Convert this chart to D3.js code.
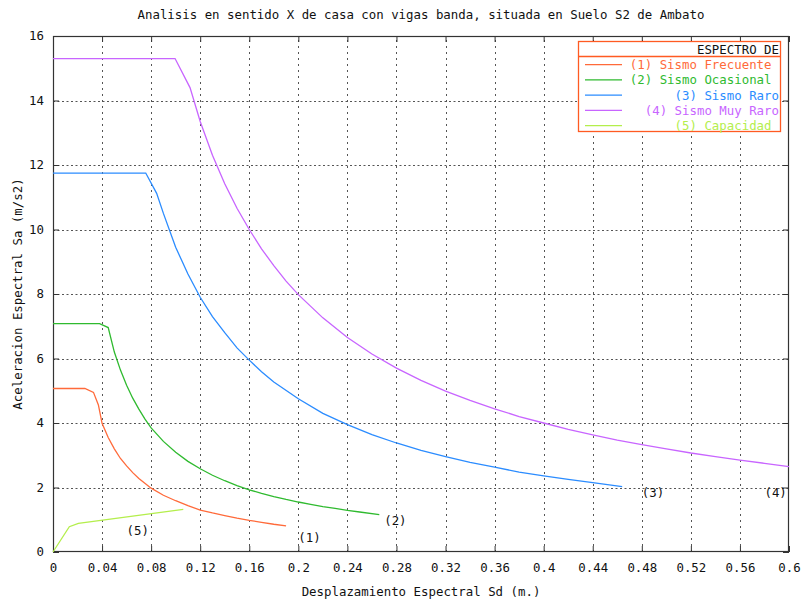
<!DOCTYPE html>
<html>
<head>
<meta charset="utf-8">
<script src="https://cdn.jsdelivr.net/npm/d3@7"></script>
<style>
  html, body { margin: 0; padding: 0; background: #fff; }
  svg text { font-family: "DejaVu Sans Mono", "Liberation Mono", monospace; font-size: 12.4px; fill: #111; white-space: pre; }
</style>
</head>
<body>
<svg id="chart" width="803" height="603"></svg>
<script>
// Spectral curves in Sa–Sd form (Sd in m, Sa in m/s2)
const sd1 = [0, 0.026, 0.033, 0.037, 0.04, 0.045, 0.05, 0.055, 0.06, 0.065, 0.07, 0.08, 0.09, 0.10, 0.11, 0.12, 0.13, 0.14, 0.15, 0.16, 0.17, 0.18, 0.19];
const sa1 = [5.07, 5.07, 4.95, 4.56, 3.99, 3.55, 3.20, 2.90, 2.67, 2.46, 2.28, 1.98, 1.76, 1.59, 1.44, 1.30, 1.21, 1.13, 1.05, 0.98, 0.92, 0.86, 0.81];

const sd2 = [0, 0.038, 0.045, 0.05, 0.055, 0.06, 0.065, 0.07, 0.075, 0.08, 0.09, 0.10, 0.11, 0.12, 0.13, 0.14, 0.15, 0.16, 0.17, 0.18, 0.19, 0.20, 0.21, 0.22, 0.23, 0.24, 0.25, 0.266];
const sa2 = [7.08, 7.08, 6.96, 6.20, 5.64, 5.17, 4.77, 4.43, 4.12, 3.85, 3.43, 3.09, 2.81, 2.58, 2.38, 2.21, 2.06, 1.93, 1.82, 1.72, 1.63, 1.55, 1.48, 1.41, 1.35, 1.29, 1.24, 1.16];

const sd3 = [0, 0.0756, 0.0845, 0.09, 0.10, 0.11, 0.12, 0.13, 0.14, 0.15, 0.16, 0.17, 0.18, 0.20, 0.22, 0.24, 0.26, 0.28, 0.30, 0.32, 0.34, 0.36, 0.38, 0.40, 0.42, 0.44, 0.464];
const sa3 = [11.75, 11.75, 11.12, 10.50, 9.45, 8.62, 7.90, 7.30, 6.80, 6.33, 5.95, 5.59, 5.27, 4.75, 4.30, 3.95, 3.64, 3.38, 3.15, 2.96, 2.78, 2.63, 2.48, 2.36, 2.25, 2.15, 2.03];

const sd4 = [0, 0.0995, 0.1117, 0.12, 0.13, 0.14, 0.15, 0.16, 0.17, 0.18, 0.19, 0.20, 0.22, 0.24, 0.26, 0.28, 0.30, 0.32, 0.34, 0.36, 0.38, 0.40, 0.42, 0.44, 0.46, 0.48, 0.50, 0.52, 0.54, 0.56, 0.58, 0.60];
const sa4 = [15.3, 15.3, 14.40, 13.35, 12.30, 11.42, 10.66, 10.0, 9.40, 8.88, 8.40, 7.98, 7.26, 6.65, 6.14, 5.70, 5.32, 4.99, 4.70, 4.44, 4.20, 4.00, 3.80, 3.63, 3.47, 3.33, 3.20, 3.07, 2.96, 2.85, 2.75, 2.65];

const sd5 = [0, 0.0133, 0.0207, 0.1062];
const sa5 = [0, 0.785, 0.89, 1.32];

const seriesNames = ["(1) Sismo Frecuente ", "(2) Sismo Ocasional ", "(3) Sismo Raro", "(4) Sismo Muy Raro", "(5) Capacidad "];
const seriesColors = ["#ff6a3a", "#2fba2f", "#2b8cff", "#c865ff", "#b4ee4c"];

// Curve tags placed next to the end of each curve
const tagText = ["(1)", "(2)", "(3)", "(4)", "(5)"];
const tagSd = [0.2, 0.27, 0.48, 0.58, 0.06];
const tagSa = [0.44, 0.96, 1.84, 1.84, 0.66];

const xTicks = [0, 0.04, 0.08, 0.12, 0.16, 0.2, 0.24, 0.28, 0.32, 0.36, 0.4, 0.44, 0.48, 0.52, 0.56, 0.6];
const xTickLabels = ["0", "0.04", "0.08", "0.12", "0.16", "0.2", "0.24", "0.28", "0.32", "0.36", "0.4", "0.44", "0.48", "0.52", "0.56", "0.6"];
const yTicks = [0, 2, 4, 6, 8, 10, 12, 14, 16];
const yTickLabels = ["0", "2", "4", "6", "8", "10", "12", "14", "16"];

const titleText = "Analisis en sentido X de casa con vigas banda, situada en Suelo S2 de Ambato";
const xTitle = "Desplazamiento Espectral Sd (m.)";
const yTitle = "Aceleracion Espectral Sa (m/s2)";
const legendTitle = "ESPECTRO DE";

const svg = d3.select("#chart");
const plotL = 53, plotR = 789, plotT = 36, plotB = 552;

const x = d3.scaleLinear().domain([0, 0.6]).range([plotL, plotR]);
const y = d3.scaleLinear().domain([0, 16]).range([plotB, plotT]);

// dotted grid
const grid = svg.append("g").attr("stroke", "#555").attr("stroke-width", 1);
grid.selectAll("line.gx").data(xTicks.slice(1, -1)).join("line")
  .attr("stroke-dasharray", "2,4")
  .attr("x1", d => Math.round(x(d)) + 0.5).attr("x2", d => Math.round(x(d)) + 0.5)
  .attr("y1", plotB).attr("y2", plotT);
grid.selectAll("line.gy").data(yTicks.slice(1, -1)).join("line")
  .attr("stroke-dasharray", "2,2.5")
  .attr("y1", d => Math.round(y(d)) + 0.5).attr("y2", d => Math.round(y(d)) + 0.5)
  .attr("x1", plotL).attr("x2", plotR);

// axes with inward ticks on all four sides
function styleAxis(g) {
  g.select(".domain").remove();
  g.selectAll(".tick line").attr("stroke", "#333");
  g.selectAll(".tick text").attr("fill", "#111").attr("font-size", null).attr("font-family", null);
}
svg.append("g").attr("transform", `translate(0,${plotB})`)
  .call(d3.axisBottom(x).tickValues(xTicks).tickFormat((d, i) => xTickLabels[i]).tickSizeInner(-6).tickSizeOuter(0).tickPadding(11))
  .call(styleAxis);
svg.append("g").attr("transform", `translate(0,${plotT})`)
  .call(d3.axisTop(x).tickValues(xTicks).tickFormat("").tickSizeInner(-6).tickSizeOuter(0))
  .call(styleAxis);
svg.append("g").attr("transform", `translate(${plotL},0)`)
  .call(d3.axisLeft(y).tickValues(yTicks).tickFormat((d, i) => yTickLabels[i]).tickSizeInner(-6).tickSizeOuter(0).tickPadding(9))
  .call(styleAxis);
svg.append("g").attr("transform", `translate(${plotR},0)`)
  .call(d3.axisRight(y).tickValues(yTicks).tickFormat("").tickSizeInner(-6).tickSizeOuter(0))
  .call(styleAxis);

// plot border
svg.append("rect").attr("x", plotL + 0.5).attr("y", plotT + 0.5)
  .attr("width", plotR - plotL - 1).attr("height", plotB - plotT - 1)
  .attr("fill", "none").attr("stroke", "#333").attr("stroke-width", 1.2);

// curves
const curves = [[sd1, sa1], [sd2, sa2], [sd3, sa3], [sd4, sa4], [sd5, sa5]];
const line = d3.line().x(d => x(d[0])).y(d => y(d[1]));
curves.forEach(([sd, sa], i) => {
  svg.append("path").datum(sd.map((v, k) => [v, sa[k]]))
    .attr("d", line).attr("fill", "none")
    .attr("stroke", seriesColors[i]).attr("stroke-width", 1.3);
});

// curve tags
svg.append("g").selectAll("text").data(tagText).join("text")
  .attr("x", (d, i) => x(tagSd[i])).attr("y", (d, i) => y(tagSa[i]))
  .attr("dy", "0.35em").text(d => d);

// titles
svg.append("text").attr("x", (plotL + plotR) / 2).attr("y", 15).attr("dy", "0.35em")
  .attr("text-anchor", "middle").text(titleText);
svg.append("text").attr("x", (plotL + plotR) / 2).attr("y", 591.5).attr("dy", "0.35em")
  .attr("text-anchor", "middle").text(xTitle);
svg.append("text").attr("transform", `translate(18,${(plotT + plotB) / 2}) rotate(-90)`)
  .attr("dy", "0.35em").attr("text-anchor", "middle").text(yTitle);

// legend
const lg = svg.append("g");
lg.append("rect").attr("x", 578.5).attr("y", 41.5).attr("width", 202).attr("height", 90)
  .attr("fill", "#fff").attr("stroke", "#ff5a22").attr("stroke-width", 1.3);
lg.append("line").attr("x1", 578.5).attr("x2", 780.5).attr("y1", 56.5).attr("y2", 56.5)
  .attr("stroke", "#ff5a22").attr("stroke-width", 1.3);
lg.append("text").attr("x", 779).attr("y", 50).attr("dy", "0.35em")
  .attr("text-anchor", "end").text(legendTitle);
seriesNames.forEach((name, i) => {
  const yy = 64.7 + i * 15.25;
  lg.append("line").attr("x1", 585).attr("x2", 622).attr("y1", yy).attr("y2", yy)
    .attr("stroke", seriesColors[i]).attr("stroke-width", 1.3);
  lg.append("text").attr("x", 779).attr("y", yy).attr("dy", "0.35em")
    .attr("text-anchor", "end").style("fill", seriesColors[i]).text(name);
});
</script>
</body>
</html>
